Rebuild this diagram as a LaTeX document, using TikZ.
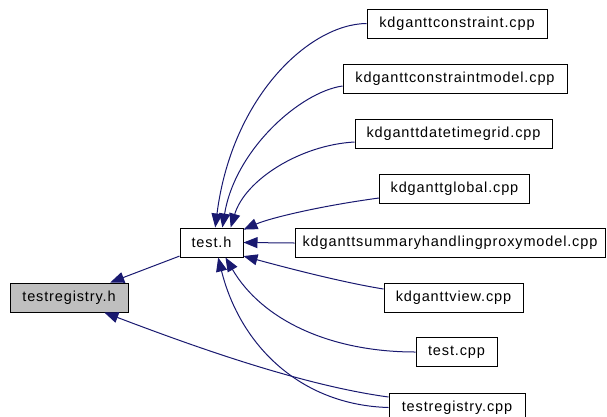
\documentclass[tikz,border=0pt]{standalone}
\usepackage{fontspec}
\setmainfont{Liberation Sans}[LetterSpace=6]
\usetikzlibrary{arrows.meta}
\definecolor{edgeblue}{HTML}{191970}
\definecolor{boxgray}{HTML}{BFBFBF}

\begin{document}
\begin{tikzpicture}[x=1pt,y=-1pt,
		file/.style={draw=black,line width=1pt,minimum height=29pt,inner sep=0pt,font=\fontsize{14.5}{17}\selectfont},
		incl/.style={draw=edgeblue,line width=1pt,-{Triangle[length=14pt,width=11pt]}}]
		\useasboundingbox (0,0) rectangle (607,416);
		\clip (0,0) rectangle (607,416);
		% headers
		\node[file,fill=boxgray,minimum width=118pt] (trh) at (69,297.5) {testregistry.h};
		\node[file,minimum width=63pt] (testh) at (211.5,242.5) {test.h};
		% sources
		\node[file,minimum width=180pt] (kcon) at (457,23.5) {kdganttconstraint.cpp};
		\node[file,minimum width=224pt] (kcm) at (455,79) {kdganttconstraintmodel.cpp};
		\node[file,minimum width=197pt] (kdtg) at (453.5,133.5) {kdganttdatetimegrid.cpp};
		\node[file,minimum width=150pt] (kgl) at (454.5,188.5) {kdganttglobal.cpp};
		\node[file,minimum width=310pt] (ksum) at (450,243) {kdganttsummaryhandlingproxymodel.cpp};
		\node[file,minimum width=139pt] (kview) at (453.5,297.5) {kdganttview.cpp};
		\node[file,minimum width=81pt] (tcpp) at (456.5,352) {test.cpp};
		\node[file,minimum width=136pt] (trcpp) at (457,407.5) {testregistry.cpp};
		% includes
		\draw[incl] (testh.203) -- (trh.20);
		\draw[incl] ([yshift=10.5pt]trcpp.west) .. controls (300,385) and (190,345) .. (trh.-23);
		\draw[incl] (kcon.west) .. controls (310,24) and (232,96) .. (testh.76);
		\draw[incl] ([yshift=-7pt]kcm.west) .. controls (300,92) and (235,150) .. (testh.54);
		\draw[incl] ([yshift=-8.5pt]kdtg.west) .. controls (300,145) and (245,180) .. (testh.38);
		\draw[incl] ([yshift=-9.5pt]kgl.west) .. controls (320,206) and (270,218) .. (testh.22);
		\draw[incl] (ksum.west) -- (testh.east);
		\draw[incl] ([yshift=8.5pt]kview.west) .. controls (340,282) and (280,266) .. (testh.-23);
		\draw[incl] (tcpp.west) .. controls (330,352) and (262,320) .. (testh.-47);
		\draw[incl] (trcpp.west) .. controls (300,405) and (240,345) .. (testh.-66);
	\end{tikzpicture}
\end{document}
